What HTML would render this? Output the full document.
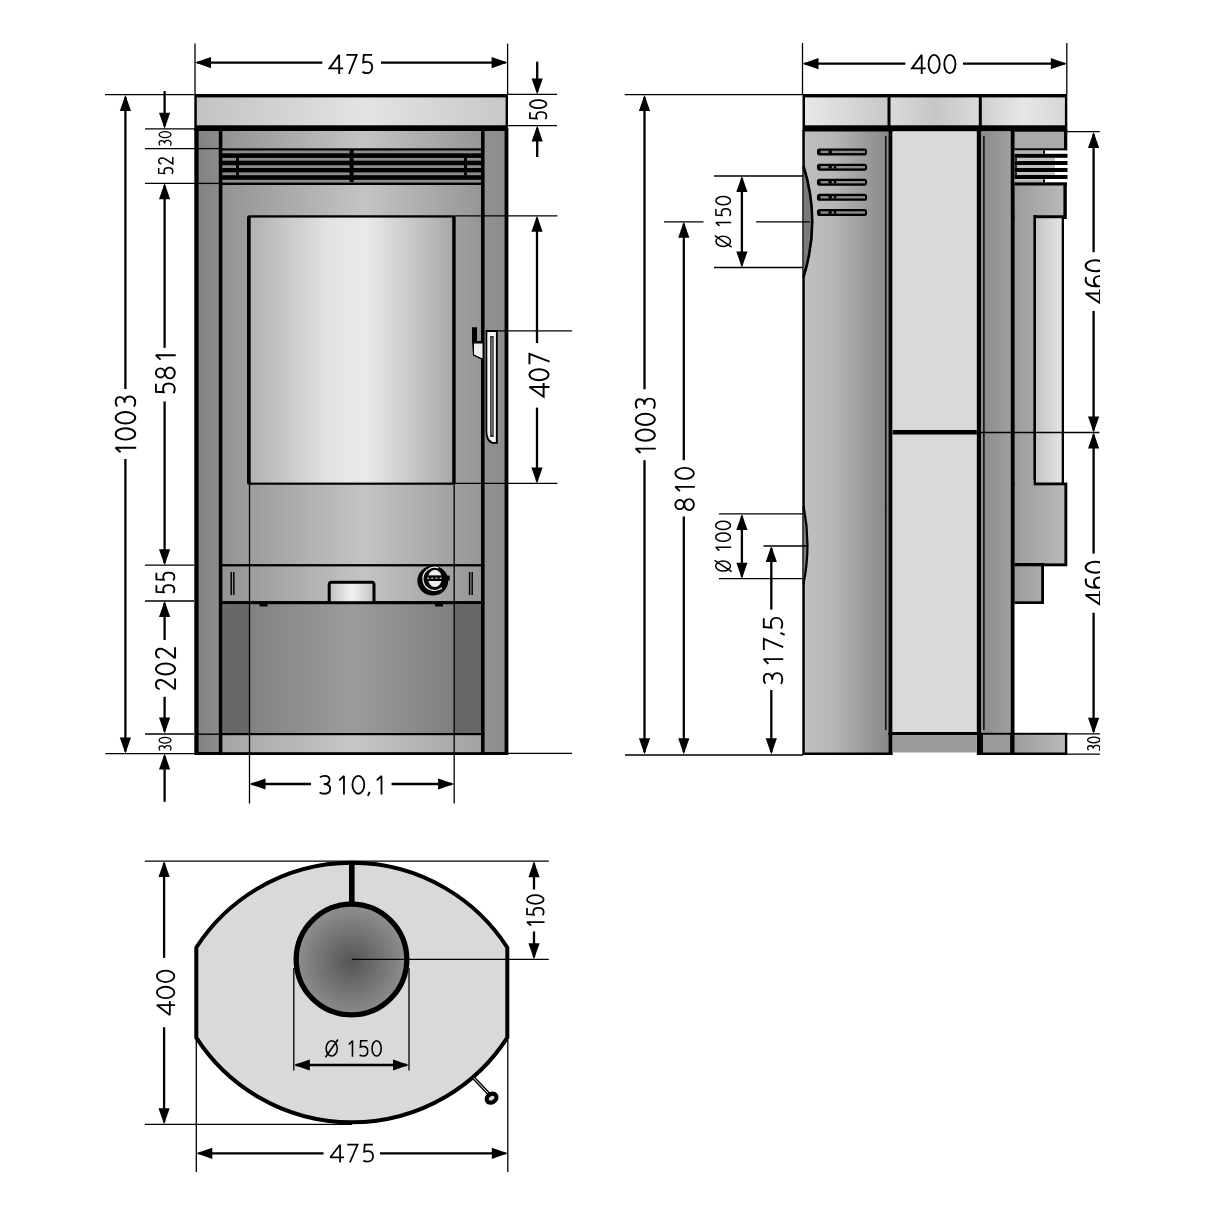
<!DOCTYPE html>
<html><head><meta charset="utf-8"><style>
html,body{margin:0;padding:0;background:#fff;width:1214px;height:1214px;overflow:hidden}
svg{display:block}
.gl path{vector-effect:non-scaling-stroke;stroke-linecap:butt;stroke-linejoin:miter;stroke-miterlimit:2.2}
</style></head><body>
<svg width="1214" height="1214" viewBox="0 0 1214 1214">
<rect width="1214" height="1214" fill="#fff"/>

<defs>
<linearGradient id="slab" x1="0" x2="1" y1="0" y2="0">
 <stop offset="0" stop-color="#c3c3c3"/><stop offset="0.55" stop-color="#e3e3e3"/><stop offset="1" stop-color="#c8c8c8"/>
</linearGradient>
<linearGradient id="col" x1="0" x2="1" y1="0" y2="0">
 <stop offset="0" stop-color="#828282"/><stop offset="1" stop-color="#8c8c8c"/>
</linearGradient>
<linearGradient id="colr" x1="0" x2="1" y1="0" y2="0">
 <stop offset="0" stop-color="#919191"/><stop offset="1" stop-color="#8c8c8c"/>
</linearGradient>
<linearGradient id="frame" x1="0" x2="1" y1="0" y2="0">
 <stop offset="0" stop-color="#939393"/><stop offset="0.55" stop-color="#c4c4c4"/><stop offset="1" stop-color="#969696"/>
</linearGradient>
<linearGradient id="glass" x1="0" x2="1" y1="0" y2="0">
 <stop offset="0" stop-color="#b2b2b2"/><stop offset="0.4" stop-color="#e4e4e4"/><stop offset="0.58" stop-color="#e9e9e9"/><stop offset="1" stop-color="#a9a9a9"/>
</linearGradient>
<linearGradient id="low" x1="0" x2="1" y1="0" y2="0">
 <stop offset="0" stop-color="#7a7a7a"/><stop offset="0.5" stop-color="#9c9c9c"/><stop offset="1" stop-color="#777777"/>
</linearGradient>
<linearGradient id="plinth" x1="0" x2="1" y1="0" y2="0">
 <stop offset="0" stop-color="#a5a5a5"/><stop offset="0.5" stop-color="#c6c6c6"/><stop offset="1" stop-color="#a2a2a2"/>
</linearGradient>
<linearGradient id="block" x1="0" x2="1" y1="0" y2="0">
 <stop offset="0" stop-color="#c0c0c0"/><stop offset="0.5" stop-color="#f2f2f2"/><stop offset="1" stop-color="#c2c2c2"/>
</linearGradient>
<linearGradient id="side" x1="0" x2="1" y1="0" y2="0">
 <stop offset="0" stop-color="#bfbfbf"/><stop offset="0.35" stop-color="#b6b6b6"/><stop offset="1" stop-color="#888888"/>
</linearGradient>
<linearGradient id="rdark" x1="0" x2="1" y1="0" y2="0">
 <stop offset="0" stop-color="#8a8a8a"/><stop offset="1" stop-color="#a0a0a0"/>
</linearGradient>
<linearGradient id="rgray" gradientUnits="userSpaceOnUse" x1="1015" x2="1066" y1="0" y2="0">
 <stop offset="0" stop-color="#9c9c9c"/><stop offset="1" stop-color="#bababa"/>
</linearGradient>
<linearGradient id="rdoor" x1="0" x2="1" y1="0" y2="0">
 <stop offset="0" stop-color="#c4c4c4"/><stop offset="1" stop-color="#e4e4e4"/>
</linearGradient>
<linearGradient id="sslab" x1="0" x2="1" y1="0" y2="0">
 <stop offset="0" stop-color="#e8e8e8"/><stop offset="1" stop-color="#c8c8c8"/>
</linearGradient>
<linearGradient id="sslab2" x1="0" x2="1" y1="0" y2="0">
 <stop offset="0" stop-color="#dadada"/><stop offset="0.5" stop-color="#c6c6c6"/><stop offset="1" stop-color="#dadada"/>
</linearGradient>
<linearGradient id="sslab3" x1="0" x2="1" y1="0" y2="0">
 <stop offset="0" stop-color="#d0d0d0"/><stop offset="0.5" stop-color="#e6e6e6"/><stop offset="1" stop-color="#d6d6d6"/>
</linearGradient>
<radialGradient id="flue" cx="0.5" cy="0.52" r="0.5">
 <stop offset="0" stop-color="#555555"/><stop offset="1" stop-color="#8e8e8e"/>
</radialGradient>
<clipPath id="clipR"><rect x="0" y="0" width="1100" height="1214"/></clipPath>
</defs>

<rect x="194.3" y="94" width="313.7" height="37" fill="#000"/>
<rect x="196.8" y="97.4" width="308.8" height="27.9" fill="url(#slab)"/>
<rect x="194.3" y="128" width="314.1" height="627" fill="#000"/>
<rect x="198.6" y="131" width="20.4" height="621" fill="url(#col)"/>
<rect x="484.4" y="131" width="20.2" height="621" fill="url(#colr)"/>
<rect x="222.2" y="131" width="258.8" height="17.3" fill="url(#frame)"/>
<rect x="222.2" y="150.5" width="258.8" height="2.8" fill="#8c8c8c"/>
<rect x="222.2" y="157.9" width="258.8" height="2.8" fill="#8c8c8c"/>
<rect x="222.2" y="165.2" width="258.8" height="2.8" fill="#8c8c8c"/>
<rect x="222.2" y="172.4" width="258.8" height="2.8" fill="#8c8c8c"/>
<rect x="222.2" y="179.8" width="258.8" height="2.8" fill="#8c8c8c"/>
<rect x="349.6" y="150" width="4" height="32" fill="#000"/>
<rect x="236" y="157.7" width="3" height="3.2" fill="#000"/>
<rect x="464" y="157.7" width="3" height="3.2" fill="#000"/>
<rect x="236" y="165" width="3" height="3.2" fill="#000"/>
<rect x="464" y="165" width="3" height="3.2" fill="#000"/>
<rect x="236" y="172.2" width="3" height="3.2" fill="#000"/>
<rect x="464" y="172.2" width="3" height="3.2" fill="#000"/>
<rect x="222.2" y="185" width="258.8" height="379.5" fill="url(#frame)"/>
<rect x="247" y="215.2" width="208.7" height="269.6" rx="2.2" fill="#000"/>
<rect x="250.7" y="217.6" width="201.5" height="265" fill="url(#glass)"/>
<rect x="219" y="564.2" width="265.4" height="2.2" fill="#000"/>
<rect x="222.2" y="566.4" width="258.8" height="34.8" fill="url(#frame)"/>
<line x1="231.2" y1="572" x2="231.2" y2="595" stroke="#000" stroke-width="1.5"/>
<line x1="233.8" y1="572" x2="233.8" y2="595" stroke="#000" stroke-width="1.5"/>
<line x1="469.6" y1="572" x2="469.6" y2="595" stroke="#000" stroke-width="1.5"/>
<line x1="472.2" y1="572" x2="472.2" y2="595" stroke="#000" stroke-width="1.5"/>
<path d="M329.2 603 L329.2 584.5 Q329.2 582.2 331.5 582.2 L371.7 582.2 Q374 582.2 374 584.5 L374 603" fill="url(#block)" stroke="#000" stroke-width="3"/>
<ellipse cx="432.8" cy="580.7" rx="15.4" ry="14.9" fill="#000"/>
<rect x="445" y="575.6" width="4.7" height="5" fill="#000"/>
<path d="M438.5 567.9 A11.6 11.6 0 1 0 442 587.7" fill="none" stroke="#f4f4f4" stroke-width="1.2"/>
<ellipse cx="434.9" cy="578.3" rx="6.9" ry="8.6" fill="#eeeeee"/>
<rect x="426.5" y="575.4" width="17" height="5.6" fill="#000"/>
<line x1="427" y1="578.2" x2="443" y2="578.2" stroke="#eee" stroke-width="1" stroke-dasharray="2.2 2"/>
<rect x="219" y="601.2" width="265.4" height="3" fill="#000"/>
<rect x="222.2" y="604.2" width="258.8" height="128.8" fill="url(#low)"/>
<rect x="222.2" y="604.2" width="27.3" height="128.8" fill="#686868"/>
<rect x="454.2" y="604.2" width="26.8" height="128.8" fill="#676767"/>
<rect x="219" y="733" width="265.4" height="2.2" fill="#000"/>
<rect x="259.5" y="603" width="8" height="3.5" fill="#000"/>
<rect x="435" y="603" width="8" height="3.5" fill="#000"/>
<rect x="222.2" y="735.2" width="258.8" height="17" fill="url(#plinth)"/>
<line x1="195" y1="734.2" x2="219" y2="734.2" stroke="#000" stroke-width="1.4"/>
<rect x="218.8" y="131" width="3.4" height="624" fill="#000"/>
<rect x="481" y="131" width="3.3" height="624" fill="#000"/>
<line x1="195" y1="148.6" x2="219" y2="148.6" stroke="#000" stroke-width="1.3"/>
<line x1="195" y1="183.4" x2="219" y2="183.4" stroke="#000" stroke-width="1.3"/>
<line x1="249.5" y1="483.4" x2="249.5" y2="803.5" stroke="#000" stroke-width="1.3"/>
<line x1="454.2" y1="483.4" x2="454.2" y2="803.5" stroke="#000" stroke-width="1.3"/>
<path d="M472 327.3 L477 327.3 L477 341 L484 341 L484 360.7 L473 355.5 L472 341 Z" fill="#000"/>
<path d="M474 343.5 L482.5 343.5 L482.5 358.5 L474 354.5 Z" fill="#eeeeee"/>
<path d="M485.6 330 L497.8 330 L497.8 443.8 L492 443.8 Q485.6 441.5 485.6 432 Z" fill="#000"/>
<path d="M487.3 332 L495.9 332 L495.9 441.9 L492.6 441.9 Q487.3 439.5 487.3 431 Z" fill="#f4f4f4"/>
<rect x="490.1" y="336" width="3.6" height="101" fill="#333"/>
<rect x="491.2" y="338" width="1.4" height="97" fill="#777"/>
<line x1="195" y1="43.6" x2="195" y2="94" stroke="#000" stroke-width="1.3"/>
<line x1="507.6" y1="43.6" x2="507.6" y2="94" stroke="#000" stroke-width="1.3"/>
<line x1="197" y1="62.6" x2="322.3" y2="62.6" stroke="#000" stroke-width="2.3"/>
<line x1="381" y1="62.6" x2="505.6" y2="62.6" stroke="#000" stroke-width="2.3"/>
<path d="M195 62.6 L211 57 L211 68.2Z"/>
<path d="M507.6 62.6 L491.6 57 L491.6 68.2Z"/>
<g transform="translate(328.5,54) scale(0.20941,0.20000) translate(-2.5,0)" fill="none" stroke="#000" stroke-width="1.85" class="gl"><path transform="translate(2.5,0)" d="M70 72 L4.5 72 L51 4.5 L51 100"/><path transform="translate(83.5,0)" d="M4.5 4.5 L53.5 4.5 L17 100"/><path transform="translate(160,0)" d="M50 4.5 L11 4.5 L8.5 42 C13 40 19 39 25 39 C42 39 51 50 51 66 C51 84 40 95.5 25 95.5 C16 95.5 9 93 4.5 89"/></g>
<line x1="105" y1="94.7" x2="194" y2="94.7" stroke="#000" stroke-width="1.3"/>
<line x1="105.3" y1="753.6" x2="194" y2="753.6" stroke="#000" stroke-width="1.3"/>
<line x1="125.4" y1="97" x2="125.4" y2="389" stroke="#000" stroke-width="2.3"/>
<line x1="125.4" y1="459" x2="125.4" y2="751.6" stroke="#000" stroke-width="2.3"/>
<path d="M125.4 95 L119.8 111 L131 111Z"/>
<path d="M125.4 753.6 L119.8 737.6 L131 737.6Z"/>
<g transform="translate(114.7,453.3) rotate(-90) scale(0.21530,0.21500) translate(-22.5,0)" fill="none" stroke="#000" stroke-width="1.95" class="gl"><path transform="translate(22.5,0)" d="M4.5 27 L25.5 4.5 L25.5 100"/><path transform="translate(81.5,0)" d="M4.5 50 A26.5 45.5 0 1 0 57.5 50 A26.5 45.5 0 1 0 4.5 50Z"/><path transform="translate(156.5,0)" d="M4.5 50 A26.5 45.5 0 1 0 57.5 50 A26.5 45.5 0 1 0 4.5 50Z"/><path transform="translate(234.5,0)" d="M6 12 C11 7 19 4.5 27 4.5 C41 4.5 49 12 49 24 C49 38 39 46 23 46 C42 46 52 56 52 70 C52 86 41 95.5 26 95.5 C17 95.5 9 93 4.5 89"/></g>
<line x1="164.6" y1="91" x2="164.6" y2="126" stroke="#000" stroke-width="2.3"/>
<path d="M164.6 128.8 L159 112.8 L170.2 112.8Z"/>
<line x1="145" y1="128.8" x2="194" y2="128.8" stroke="#000" stroke-width="1.3"/>
<g transform="translate(158.5,146) rotate(-90) scale(0.11045,0.13100) translate(-9.5,0)" fill="none" stroke="#000" stroke-width="1.26" class="gl"><path transform="translate(9.5,0)" d="M6 12 C11 7 19 4.5 27 4.5 C41 4.5 49 12 49 24 C49 38 39 46 23 46 C42 46 52 56 52 70 C52 86 41 95.5 26 95.5 C17 95.5 9 93 4.5 89"/><path transform="translate(81.5,0)" d="M4.5 50 A26.5 45.5 0 1 0 57.5 50 A26.5 45.5 0 1 0 4.5 50Z"/></g>
<line x1="145" y1="148.6" x2="195" y2="148.6" stroke="#000" stroke-width="1.3"/>
<g transform="translate(158,174.6) rotate(-90) scale(0.13384,0.15500) translate(-10,0)" fill="none" stroke="#000" stroke-width="1.47" class="gl"><path transform="translate(10,0)" d="M50 4.5 L11 4.5 L8.5 42 C13 40 19 39 25 39 C42 39 51 50 51 66 C51 84 40 95.5 25 95.5 C16 95.5 9 93 4.5 89"/><path transform="translate(83.5,0)" d="M7 22 C10 9 19 4.5 29 4.5 C43 4.5 51 13 51 26 C51 39 45 47 35 58 L6 95.5 L58 95.5"/></g>
<line x1="145" y1="183.3" x2="195" y2="183.3" stroke="#000" stroke-width="1.3"/>
<line x1="164.6" y1="185.3" x2="164.6" y2="347.8" stroke="#000" stroke-width="2.3"/>
<line x1="164.6" y1="401.4" x2="164.6" y2="563.2" stroke="#000" stroke-width="2.3"/>
<path d="M164.6 183.3 L159 199.3 L170.2 199.3Z"/>
<path d="M164.6 565.2 L159 549.2 L170.2 549.2Z"/>
<g transform="translate(155,394) rotate(-90) scale(0.20571,0.20700) translate(-10,0)" fill="none" stroke="#000" stroke-width="1.91" class="gl"><path transform="translate(10,0)" d="M50 4.5 L11 4.5 L8.5 42 C13 40 19 39 25 39 C42 39 51 50 51 66 C51 84 40 95.5 25 95.5 C16 95.5 9 93 4.5 89"/><path transform="translate(81.5,0)" d="M9 26 A22 21.5 0 1 0 53 26 A22 21.5 0 1 0 9 26Z M4.5 72 A26.5 23.5 0 1 0 57.5 72 A26.5 23.5 0 1 0 4.5 72Z"/><path transform="translate(172.5,0)" d="M4.5 27 L25.5 4.5 L25.5 100"/></g>
<line x1="145" y1="565.2" x2="194" y2="565.2" stroke="#000" stroke-width="1.3"/>
<g transform="translate(155.5,593.7) rotate(-90) scale(0.16692,0.19800) translate(-10,0)" fill="none" stroke="#000" stroke-width="1.83" class="gl"><path transform="translate(10,0)" d="M50 4.5 L11 4.5 L8.5 42 C13 40 19 39 25 39 C42 39 51 50 51 66 C51 84 40 95.5 25 95.5 C16 95.5 9 93 4.5 89"/><path transform="translate(85,0)" d="M50 4.5 L11 4.5 L8.5 42 C13 40 19 39 25 39 C42 39 51 50 51 66 C51 84 40 95.5 25 95.5 C16 95.5 9 93 4.5 89"/></g>
<line x1="145" y1="601" x2="194" y2="601" stroke="#000" stroke-width="1.3"/>
<line x1="164.6" y1="603" x2="164.6" y2="640" stroke="#000" stroke-width="2.3"/>
<line x1="164.6" y1="696.8" x2="164.6" y2="731.5" stroke="#000" stroke-width="2.3"/>
<path d="M164.6 601 L159 617 L170.2 617Z"/>
<path d="M164.6 733.5 L159 717.5 L170.2 717.5Z"/>
<g transform="translate(155,690.6) rotate(-90) scale(0.20817,0.21000) translate(-8.5,0)" fill="none" stroke="#000" stroke-width="1.94" class="gl"><path transform="translate(8.5,0)" d="M7 22 C10 9 19 4.5 29 4.5 C43 4.5 51 13 51 26 C51 39 45 47 35 58 L6 95.5 L58 95.5"/><path transform="translate(81.5,0)" d="M4.5 50 A26.5 45.5 0 1 0 57.5 50 A26.5 45.5 0 1 0 4.5 50Z"/><path transform="translate(158.5,0)" d="M7 22 C10 9 19 4.5 29 4.5 C43 4.5 51 13 51 26 C51 39 45 47 35 58 L6 95.5 L58 95.5"/></g>
<line x1="145" y1="734" x2="194" y2="734" stroke="#000" stroke-width="1.3"/>
<g transform="translate(158.5,751) rotate(-90) scale(0.10448,0.13100) translate(-9.5,0)" fill="none" stroke="#000" stroke-width="1.26" class="gl"><path transform="translate(9.5,0)" d="M6 12 C11 7 19 4.5 27 4.5 C41 4.5 49 12 49 24 C49 38 39 46 23 46 C42 46 52 56 52 70 C52 86 41 95.5 26 95.5 C17 95.5 9 93 4.5 89"/><path transform="translate(81.5,0)" d="M4.5 50 A26.5 45.5 0 1 0 57.5 50 A26.5 45.5 0 1 0 4.5 50Z"/></g>
<line x1="164.6" y1="756" x2="164.6" y2="801.8" stroke="#000" stroke-width="2.3"/>
<path d="M164.6 753.6 L159 769.6 L170.2 769.6Z"/>
<line x1="507" y1="94.4" x2="557" y2="94.4" stroke="#000" stroke-width="1.3"/>
<line x1="507" y1="125.6" x2="557" y2="125.6" stroke="#000" stroke-width="1.3"/>
<line x1="537.2" y1="61.6" x2="537.2" y2="92" stroke="#000" stroke-width="2.3"/>
<path d="M537.2 94.4 L531.6 78.4 L542.8 78.4Z"/>
<line x1="537.2" y1="128" x2="537.2" y2="157" stroke="#000" stroke-width="2.3"/>
<path d="M537.2 125.6 L531.6 141.6 L542.8 141.6Z"/>
<g transform="translate(529.1,119.8) rotate(-90) scale(0.15281,0.18200) translate(-10,0)" fill="none" stroke="#000" stroke-width="1.70" class="gl"><path transform="translate(10,0)" d="M50 4.5 L11 4.5 L8.5 42 C13 40 19 39 25 39 C42 39 51 50 51 66 C51 84 40 95.5 25 95.5 C16 95.5 9 93 4.5 89"/><path transform="translate(81.5,0)" d="M4.5 50 A26.5 45.5 0 1 0 57.5 50 A26.5 45.5 0 1 0 4.5 50Z"/></g>
<line x1="455" y1="215.8" x2="557.4" y2="215.8" stroke="#000" stroke-width="1.3"/>
<line x1="455" y1="483.4" x2="557.4" y2="483.4" stroke="#000" stroke-width="1.3"/>
<line x1="497" y1="330.8" x2="572" y2="330.8" stroke="#000" stroke-width="1.3"/>
<line x1="508" y1="753.4" x2="572" y2="753.4" stroke="#000" stroke-width="1.3"/>
<line x1="537" y1="217.8" x2="537" y2="343" stroke="#000" stroke-width="2.3"/>
<line x1="537" y1="407.6" x2="537" y2="481.4" stroke="#000" stroke-width="2.3"/>
<path d="M537 215.8 L531.4 231.8 L542.6 231.8Z"/>
<path d="M537 483.4 L531.4 467.4 L542.6 467.4Z"/>
<g transform="translate(528.5,397.7) rotate(-90) scale(0.20888,0.21000) translate(-2.5,0)" fill="none" stroke="#000" stroke-width="1.94" class="gl"><path transform="translate(2.5,0)" d="M70 72 L4.5 72 L51 4.5 L51 100"/><path transform="translate(81.5,0)" d="M4.5 50 A26.5 45.5 0 1 0 57.5 50 A26.5 45.5 0 1 0 4.5 50Z"/><path transform="translate(158.5,0)" d="M4.5 4.5 L53.5 4.5 L17 100"/></g>
<line x1="251.5" y1="784" x2="311" y2="784" stroke="#000" stroke-width="2.3"/>
<line x1="391.6" y1="784" x2="452.1" y2="784" stroke="#000" stroke-width="2.3"/>
<path d="M249.5 784 L265.5 778.4 L265.5 789.6Z"/>
<path d="M454.1 784 L438.1 778.4 L438.1 789.6Z"/>
<g transform="translate(318.6,775) scale(0.22343,0.19600) translate(-9.5,0)" fill="none" stroke="#000" stroke-width="1.82" class="gl"><path transform="translate(9.5,0)" d="M6 12 C11 7 19 4.5 27 4.5 C41 4.5 49 12 49 24 C49 38 39 46 23 46 C42 46 52 56 52 70 C52 86 41 95.5 26 95.5 C17 95.5 9 93 4.5 89"/><path transform="translate(97.5,0)" d="M4.5 27 L25.5 4.5 L25.5 100"/><path transform="translate(156.5,0)" d="M4.5 50 A26.5 45.5 0 1 0 57.5 50 A26.5 45.5 0 1 0 4.5 50Z"/><path transform="translate(227,0)" d="M11 86 L3 107"/><path transform="translate(265.5,0)" d="M4.5 27 L25.5 4.5 L25.5 100"/></g>
<rect x="802.5" y="94" width="264.8" height="37.5" fill="#000"/>
<rect x="805" y="97.4" width="82.5" height="27.9" fill="url(#sslab)"/>
<rect x="890.5" y="97.4" width="88.3" height="27.9" fill="url(#sslab2)"/>
<rect x="981.8" y="97.4" width="83.1" height="27.9" fill="url(#sslab3)"/>
<rect x="802.3" y="130" width="90.3" height="625" fill="#000"/>
<rect x="804.8" y="131.5" width="83.8" height="621" fill="url(#side)"/>
<path d="M803.5 166 Q821 221.5 803.5 277 Z" fill="#7a7a7a"/>
<path d="M803.5 166 Q821 221.5 803.5 277" fill="none" stroke="#000" stroke-width="2.6"/>
<path d="M803.5 506 Q811.5 545 803.5 584 Z" fill="#7a7a7a"/>
<path d="M803.5 506 Q811.5 545 803.5 584" fill="none" stroke="#000" stroke-width="2.2"/>
<rect x="817" y="148.4" width="50" height="7" rx="2.6" fill="#000"/>
<rect x="820.5" y="150.7" width="44.5" height="2.4" fill="#8c8c8c"/>
<rect x="828.5" y="150.6" width="3.3" height="2.6" fill="#000"/>
<rect x="817" y="163.7" width="50" height="7" rx="2.6" fill="#000"/>
<rect x="820.5" y="166" width="44.5" height="2.4" fill="#8c8c8c"/>
<rect x="828.5" y="165.9" width="3.3" height="2.6" fill="#000"/>
<rect x="833.8" y="165.9" width="2.4" height="2.6" fill="#000"/>
<rect x="817" y="178.7" width="50" height="7" rx="2.6" fill="#000"/>
<rect x="820.5" y="181" width="44.5" height="2.4" fill="#8c8c8c"/>
<rect x="828.5" y="180.9" width="3.3" height="2.6" fill="#000"/>
<rect x="833.8" y="180.9" width="2.4" height="2.6" fill="#000"/>
<rect x="817" y="193.8" width="50" height="7" rx="2.6" fill="#000"/>
<rect x="820.5" y="196.1" width="44.5" height="2.4" fill="#8c8c8c"/>
<rect x="828.5" y="196" width="3.3" height="2.6" fill="#000"/>
<rect x="833.8" y="196" width="2.4" height="2.6" fill="#000"/>
<rect x="817" y="209" width="50" height="7" rx="2.6" fill="#000"/>
<rect x="820.5" y="211.3" width="44.5" height="2.4" fill="#8c8c8c"/>
<rect x="828.5" y="211.2" width="3.3" height="2.6" fill="#000"/>
<rect x="833.8" y="211.2" width="2.4" height="2.6" fill="#000"/>
<line x1="885.8" y1="136" x2="885.8" y2="730" stroke="#000" stroke-width="1.4"/>
<rect x="892.6" y="131.5" width="84.2" height="601.5" fill="#d9d9d9"/>
<rect x="892.6" y="430" width="84.2" height="4.5" fill="#000"/>
<rect x="888.6" y="732" width="92.5" height="3" fill="#000"/>
<rect x="976.8" y="130" width="4.3" height="625" fill="#000"/>
<rect x="981.1" y="131.5" width="29.5" height="621" fill="url(#rdark)"/>
<line x1="983.9" y1="136" x2="983.9" y2="730" stroke="#000" stroke-width="1.4"/>
<rect x="1014.5" y="129" width="52.8" height="21.5" fill="#000"/>
<rect x="1014.5" y="131.7" width="49.5" height="16.6" fill="#aaaaaa"/>
<rect x="1014.5" y="150.7" width="28.5" height="3" fill="#b5b5b5"/>
<rect x="1043" y="150.7" width="2" height="3" fill="#000"/>
<rect x="1045" y="150.7" width="23" height="3" fill="#ffffff"/>
<rect x="1014.5" y="157.9" width="2.5" height="3" fill="#222"/>
<rect x="1017" y="157.9" width="38" height="3" fill="#c0c0c0"/>
<rect x="1057" y="157.9" width="11" height="3" fill="#ffffff"/>
<rect x="1014.5" y="165" width="2.5" height="3" fill="#222"/>
<rect x="1017" y="165" width="38" height="3" fill="#c0c0c0"/>
<rect x="1057" y="165" width="11" height="3" fill="#ffffff"/>
<rect x="1014.5" y="172.1" width="2.5" height="3" fill="#222"/>
<rect x="1017" y="172.1" width="38" height="3" fill="#c0c0c0"/>
<rect x="1057" y="172.1" width="11" height="3" fill="#ffffff"/>
<rect x="1014.5" y="179.3" width="28.5" height="3" fill="#b5b5b5"/>
<rect x="1043" y="179.3" width="2" height="3" fill="#000"/>
<rect x="1045" y="179.3" width="23" height="3" fill="#ffffff"/>
<rect x="1014.5" y="153.8" width="53" height="4" fill="#000"/>
<rect x="1014.5" y="161" width="53" height="4" fill="#000"/>
<rect x="1014.5" y="168" width="53" height="4" fill="#000"/>
<rect x="1014.5" y="175" width="53" height="4" fill="#000"/>
<rect x="1014.5" y="182.3" width="52.5" height="3.2" fill="#000"/>
<rect x="1014.5" y="184" width="52.3" height="35" fill="#000"/>
<rect x="1015" y="185.5" width="48.4" height="30" fill="url(#rgray)"/>
<rect x="1014.5" y="215" width="21.5" height="270" fill="#000"/>
<rect x="1015" y="215" width="18.6" height="269" fill="url(#rgray)"/>
<rect x="1033.6" y="215.5" width="30.4" height="269.5" fill="#000"/>
<rect x="1036" y="218.2" width="25.7" height="264.8" fill="url(#rdoor)"/>
<rect x="1014.5" y="482.5" width="52.8" height="83.8" fill="#000"/>
<rect x="1015" y="485.3" width="49.4" height="78.1" fill="url(#rgray)"/>
<rect x="1015" y="480" width="18.6" height="6" fill="url(#rgray)"/>
<rect x="1014.5" y="563" width="29.5" height="41" fill="#000"/>
<rect x="1015" y="566.3" width="26.2" height="35" fill="url(#rgray)"/>
<rect x="981.1" y="732.8" width="86.2" height="22.2" fill="#000"/>
<rect x="983" y="734.5" width="27.2" height="18" fill="#9c9c9c"/>
<rect x="1013.8" y="734.5" width="51.1" height="18" fill="url(#rgray)"/>
<rect x="892.6" y="735" width="84.2" height="17.5" fill="#9a9a9a"/>
<line x1="888" y1="733.8" x2="1100" y2="733.8" stroke="#000" stroke-width="1.3"/>
<rect x="1010.6" y="130" width="3.9" height="625" fill="#000"/>
<line x1="802.5" y1="43" x2="802.5" y2="94" stroke="#000" stroke-width="1.3"/>
<line x1="1066.8" y1="43" x2="1066.8" y2="94" stroke="#000" stroke-width="1.3"/>
<line x1="804.5" y1="63.7" x2="905.4" y2="63.7" stroke="#000" stroke-width="2.3"/>
<line x1="963" y1="63.7" x2="1064.8" y2="63.7" stroke="#000" stroke-width="2.3"/>
<path d="M802.5 63.7 L818.5 58.1 L818.5 69.3Z"/>
<path d="M1066.8 63.7 L1050.8 58.1 L1050.8 69.3Z"/>
<g transform="translate(911,54) scale(0.21019,0.20000) translate(-2.5,0)" fill="none" stroke="#000" stroke-width="1.85" class="gl"><path transform="translate(2.5,0)" d="M70 72 L4.5 72 L51 4.5 L51 100"/><path transform="translate(81.5,0)" d="M4.5 50 A26.5 45.5 0 1 0 57.5 50 A26.5 45.5 0 1 0 4.5 50Z"/><path transform="translate(156.5,0)" d="M4.5 50 A26.5 45.5 0 1 0 57.5 50 A26.5 45.5 0 1 0 4.5 50Z"/></g>
<line x1="624.7" y1="94.7" x2="803" y2="94.7" stroke="#000" stroke-width="1.3"/>
<line x1="625" y1="755" x2="803" y2="755" stroke="#000" stroke-width="1.3"/>
<line x1="644.5" y1="97" x2="644.5" y2="389.2" stroke="#000" stroke-width="2.3"/>
<line x1="644.5" y1="460.2" x2="644.5" y2="752.2" stroke="#000" stroke-width="2.3"/>
<path d="M644.5 95 L638.9 111 L650.1 111Z"/>
<path d="M644.5 754.2 L638.9 738.2 L650.1 738.2Z"/>
<g transform="translate(634.8,454) rotate(-90) scale(0.20970,0.21000) translate(-22.5,0)" fill="none" stroke="#000" stroke-width="1.94" class="gl"><path transform="translate(22.5,0)" d="M4.5 27 L25.5 4.5 L25.5 100"/><path transform="translate(81.5,0)" d="M4.5 50 A26.5 45.5 0 1 0 57.5 50 A26.5 45.5 0 1 0 4.5 50Z"/><path transform="translate(156.5,0)" d="M4.5 50 A26.5 45.5 0 1 0 57.5 50 A26.5 45.5 0 1 0 4.5 50Z"/><path transform="translate(234.5,0)" d="M6 12 C11 7 19 4.5 27 4.5 C41 4.5 49 12 49 24 C49 38 39 46 23 46 C42 46 52 56 52 70 C52 86 41 95.5 26 95.5 C17 95.5 9 93 4.5 89"/></g>
<line x1="664" y1="221.8" x2="703.6" y2="221.8" stroke="#000" stroke-width="1.3"/>
<line x1="756" y1="221.8" x2="810" y2="221.8" stroke="#000" stroke-width="1.3"/>
<line x1="683.8" y1="223.8" x2="683.8" y2="460.2" stroke="#000" stroke-width="2.3"/>
<line x1="683.8" y1="516.5" x2="683.8" y2="752.2" stroke="#000" stroke-width="2.3"/>
<path d="M683.8 221.8 L678.2 237.8 L689.4 237.8Z"/>
<path d="M683.8 754.2 L678.2 738.2 L689.4 738.2Z"/>
<g transform="translate(674.4,511) rotate(-90) scale(0.20755,0.20400) translate(-6.5,0)" fill="none" stroke="#000" stroke-width="1.88" class="gl"><path transform="translate(6.5,0)" d="M9 26 A22 21.5 0 1 0 53 26 A22 21.5 0 1 0 9 26Z M4.5 72 A26.5 23.5 0 1 0 57.5 72 A26.5 23.5 0 1 0 4.5 72Z"/><path transform="translate(97.5,0)" d="M4.5 27 L25.5 4.5 L25.5 100"/><path transform="translate(156.5,0)" d="M4.5 50 A26.5 45.5 0 1 0 57.5 50 A26.5 45.5 0 1 0 4.5 50Z"/></g>
<line x1="714" y1="176" x2="803" y2="176" stroke="#000" stroke-width="1.3"/>
<line x1="714" y1="267.5" x2="803" y2="267.5" stroke="#000" stroke-width="1.3"/>
<line x1="741.9" y1="178" x2="741.9" y2="265.5" stroke="#000" stroke-width="2.3"/>
<path d="M741.9 176 L736.3 192 L747.5 192Z"/>
<path d="M741.9 267.5 L736.3 251.5 L747.5 251.5Z"/>
<g transform="translate(715.2,247.8) rotate(-90) scale(0.15686,0.16000) translate(-3,0)" fill="none" stroke="#000" stroke-width="1.51" class="gl"><path transform="translate(3,0)" d="M9 50 A32 45.5 0 1 0 73 50 A32 45.5 0 1 0 9 50Z M5 103 L77 -3"/><path transform="translate(138.5,0)" d="M4.5 27 L25.5 4.5 L25.5 100"/><path transform="translate(201,0)" d="M50 4.5 L11 4.5 L8.5 42 C13 40 19 39 25 39 C42 39 51 50 51 66 C51 84 40 95.5 25 95.5 C16 95.5 9 93 4.5 89"/><path transform="translate(272.5,0)" d="M4.5 50 A26.5 45.5 0 1 0 57.5 50 A26.5 45.5 0 1 0 4.5 50Z"/></g>
<line x1="718.9" y1="513.9" x2="803" y2="513.9" stroke="#000" stroke-width="1.3"/>
<line x1="718.9" y1="578.7" x2="803" y2="578.7" stroke="#000" stroke-width="1.3"/>
<line x1="741.9" y1="515.9" x2="741.9" y2="576.7" stroke="#000" stroke-width="2.3"/>
<path d="M741.9 513.9 L736.3 529.9 L747.5 529.9Z"/>
<path d="M741.9 578.7 L736.3 562.7 L747.5 562.7Z"/>
<g transform="translate(715,572.5) rotate(-90) scale(0.15656,0.16200) translate(-3,0)" fill="none" stroke="#000" stroke-width="1.53" class="gl"><path transform="translate(3,0)" d="M9 50 A32 45.5 0 1 0 73 50 A32 45.5 0 1 0 9 50Z M5 103 L77 -3"/><path transform="translate(138.5,0)" d="M4.5 27 L25.5 4.5 L25.5 100"/><path transform="translate(197.5,0)" d="M4.5 50 A26.5 45.5 0 1 0 57.5 50 A26.5 45.5 0 1 0 4.5 50Z"/><path transform="translate(272.5,0)" d="M4.5 50 A26.5 45.5 0 1 0 57.5 50 A26.5 45.5 0 1 0 4.5 50Z"/></g>
<line x1="763.4" y1="546" x2="808" y2="546" stroke="#000" stroke-width="1.3"/>
<line x1="771.3" y1="548" x2="771.3" y2="609.6" stroke="#000" stroke-width="2.3"/>
<line x1="771.3" y1="690" x2="771.3" y2="752.2" stroke="#000" stroke-width="2.3"/>
<path d="M771.3 546 L765.7 562 L776.9 562Z"/>
<path d="M771.3 754.2 L765.7 738.2 L776.9 738.2Z"/>
<g transform="translate(762.9,685) rotate(-90) scale(0.22781,0.20300) translate(-9.5,0)" fill="none" stroke="#000" stroke-width="1.88" class="gl"><path transform="translate(9.5,0)" d="M6 12 C11 7 19 4.5 27 4.5 C41 4.5 49 12 49 24 C49 38 39 46 23 46 C42 46 52 56 52 70 C52 86 41 95.5 26 95.5 C17 95.5 9 93 4.5 89"/><path transform="translate(97.5,0)" d="M4.5 27 L25.5 4.5 L25.5 100"/><path transform="translate(158.5,0)" d="M4.5 4.5 L53.5 4.5 L17 100"/><path transform="translate(227,0)" d="M11 86 L3 107"/><path transform="translate(253,0)" d="M50 4.5 L11 4.5 L8.5 42 C13 40 19 39 25 39 C42 39 51 50 51 66 C51 84 40 95.5 25 95.5 C16 95.5 9 93 4.5 89"/></g>
<line x1="1066" y1="131.7" x2="1099.7" y2="131.7" stroke="#000" stroke-width="1.3"/>
<line x1="981" y1="432.5" x2="1099.4" y2="432.5" stroke="#000" stroke-width="1.3"/>
<line x1="1066" y1="754.2" x2="1100" y2="754.2" stroke="#000" stroke-width="1.3"/>
<line x1="1093.6" y1="134" x2="1093.6" y2="252.2" stroke="#000" stroke-width="2.3"/>
<line x1="1093.6" y1="310.9" x2="1093.6" y2="430.5" stroke="#000" stroke-width="2.3"/>
<path d="M1093.6 132 L1088 148 L1099.2 148Z"/>
<path d="M1093.6 432.5 L1088 416.5 L1099.2 416.5Z"/>
<line x1="1093.6" y1="434.5" x2="1093.6" y2="553.6" stroke="#000" stroke-width="2.3"/>
<line x1="1093.6" y1="612.7" x2="1093.6" y2="731.8" stroke="#000" stroke-width="2.3"/>
<path d="M1093.6 432.5 L1088 448.5 L1099.2 448.5Z"/>
<path d="M1093.6 733.8 L1088 717.8 L1099.2 717.8Z"/>
<g clip-path="url(#clipR)">
<g transform="translate(1084.7,304) rotate(-90) scale(0.20648,0.21300) translate(-2.5,0)" fill="none" stroke="#000" stroke-width="1.95" class="gl"><path transform="translate(2.5,0)" d="M70 72 L4.5 72 L51 4.5 L51 100"/><path transform="translate(82.5,0)" d="M50 7 C46 5 41 4.5 37 4.5 C17 4.5 5.5 23 5.5 54 C5.5 80 15 95.5 31 95.5 C46 95.5 55 84 55 69 C55 53 45 43 32 43 C20 43 11 49 6 59"/><path transform="translate(156.5,0)" d="M4.5 50 A26.5 45.5 0 1 0 57.5 50 A26.5 45.5 0 1 0 4.5 50Z"/></g>
<g transform="translate(1084.7,605.5) rotate(-90) scale(0.20694,0.21300) translate(-2.5,0)" fill="none" stroke="#000" stroke-width="1.95" class="gl"><path transform="translate(2.5,0)" d="M70 72 L4.5 72 L51 4.5 L51 100"/><path transform="translate(82.5,0)" d="M50 7 C46 5 41 4.5 37 4.5 C17 4.5 5.5 23 5.5 54 C5.5 80 15 95.5 31 95.5 C46 95.5 55 84 55 69 C55 53 45 43 32 43 C20 43 11 49 6 59"/><path transform="translate(156.5,0)" d="M4.5 50 A26.5 45.5 0 1 0 57.5 50 A26.5 45.5 0 1 0 4.5 50Z"/></g>
<g transform="translate(1087,751) rotate(-90) scale(0.10746,0.13500) translate(-9.5,0)" fill="none" stroke="#000" stroke-width="1.30" class="gl"><path transform="translate(9.5,0)" d="M6 12 C11 7 19 4.5 27 4.5 C41 4.5 49 12 49 24 C49 38 39 46 23 46 C42 46 52 56 52 70 C52 86 41 95.5 26 95.5 C17 95.5 9 93 4.5 89"/><path transform="translate(81.5,0)" d="M4.5 50 A26.5 45.5 0 1 0 57.5 50 A26.5 45.5 0 1 0 4.5 50Z"/></g>
</g>
<path d="M196.3 947.5 A185.1 185.1 0 0 1 507.3 947.5 L507.3 1037.6 A185.1 185.1 0 0 1 196.3 1037.6 Z" fill="#d9d9d9" stroke="#000" stroke-width="4"/>
<rect x="349" y="862" width="5.6" height="41" fill="#000"/>
<circle cx="351.5" cy="959.5" r="55.3" fill="url(#flue)" stroke="#000" stroke-width="5.3"/>
<line x1="352" y1="959.3" x2="548.8" y2="959.3" stroke="#000" stroke-width="1.3"/>
<line x1="144.8" y1="861.1" x2="548.8" y2="861.1" stroke="#000" stroke-width="1.3"/>
<line x1="144.8" y1="1124.3" x2="352" y2="1124.3" stroke="#000" stroke-width="1.3"/>
<line x1="534" y1="863.3" x2="534" y2="889.5" stroke="#000" stroke-width="2.3"/>
<line x1="534" y1="931.5" x2="534" y2="957.3" stroke="#000" stroke-width="2.3"/>
<path d="M534 861.3 L528.4 877.3 L539.6 877.3Z"/>
<path d="M534 959.3 L528.4 943.3 L539.6 943.3Z"/>
<g transform="translate(526.2,926.2) rotate(-90) scale(0.16173,0.18300) translate(-22.5,0)" fill="none" stroke="#000" stroke-width="1.71" class="gl"><path transform="translate(22.5,0)" d="M4.5 27 L25.5 4.5 L25.5 100"/><path transform="translate(85,0)" d="M50 4.5 L11 4.5 L8.5 42 C13 40 19 39 25 39 C42 39 51 50 51 66 C51 84 40 95.5 25 95.5 C16 95.5 9 93 4.5 89"/><path transform="translate(156.5,0)" d="M4.5 50 A26.5 45.5 0 1 0 57.5 50 A26.5 45.5 0 1 0 4.5 50Z"/></g>
<line x1="164.1" y1="863.1" x2="164.1" y2="957.9" stroke="#000" stroke-width="2.3"/>
<line x1="164.1" y1="1027.2" x2="164.1" y2="1122.3" stroke="#000" stroke-width="2.3"/>
<path d="M164.1 861.1 L158.5 877.1 L169.7 877.1Z"/>
<path d="M164.1 1124.3 L158.5 1108.3 L169.7 1108.3Z"/>
<g transform="translate(156,1016) rotate(-90) scale(0.21435,0.19200) translate(-2.5,0)" fill="none" stroke="#000" stroke-width="1.78" class="gl"><path transform="translate(2.5,0)" d="M70 72 L4.5 72 L51 4.5 L51 100"/><path transform="translate(81.5,0)" d="M4.5 50 A26.5 45.5 0 1 0 57.5 50 A26.5 45.5 0 1 0 4.5 50Z"/><path transform="translate(156.5,0)" d="M4.5 50 A26.5 45.5 0 1 0 57.5 50 A26.5 45.5 0 1 0 4.5 50Z"/></g>
<line x1="293.8" y1="968" x2="293.8" y2="1070.5" stroke="#000" stroke-width="1.3"/>
<line x1="409" y1="968" x2="409" y2="1070.5" stroke="#000" stroke-width="1.3"/>
<line x1="295.8" y1="1065" x2="407" y2="1065" stroke="#000" stroke-width="2.3"/>
<path d="M293.8 1065 L309.8 1059.4 L309.8 1070.6Z"/>
<path d="M409 1065 L393 1059.4 L393 1070.6Z"/>
<g transform="translate(324.6,1040) scale(0.17315,0.16800) translate(-3,0)" fill="none" stroke="#000" stroke-width="1.58" class="gl"><path transform="translate(3,0)" d="M9 50 A32 45.5 0 1 0 73 50 A32 45.5 0 1 0 9 50Z M5 103 L77 -3"/><path transform="translate(138.5,0)" d="M4.5 27 L25.5 4.5 L25.5 100"/><path transform="translate(201,0)" d="M50 4.5 L11 4.5 L8.5 42 C13 40 19 39 25 39 C42 39 51 50 51 66 C51 84 40 95.5 25 95.5 C16 95.5 9 93 4.5 89"/><path transform="translate(272.5,0)" d="M4.5 50 A26.5 45.5 0 1 0 57.5 50 A26.5 45.5 0 1 0 4.5 50Z"/></g>
<line x1="196.3" y1="1040" x2="196.3" y2="1172" stroke="#000" stroke-width="1.3"/>
<line x1="507.8" y1="1040" x2="507.8" y2="1172" stroke="#000" stroke-width="1.3"/>
<line x1="198.3" y1="1153.3" x2="323.5" y2="1153.3" stroke="#000" stroke-width="2.3"/>
<line x1="380" y1="1153.3" x2="505.8" y2="1153.3" stroke="#000" stroke-width="2.3"/>
<path d="M196.3 1153.3 L212.3 1147.7 L212.3 1158.9Z"/>
<path d="M507.8 1153.3 L491.8 1147.7 L491.8 1158.9Z"/>
<g transform="translate(329.4,1143.9) scale(0.20941,0.18600) translate(-2.5,0)" fill="none" stroke="#000" stroke-width="1.73" class="gl"><path transform="translate(2.5,0)" d="M70 72 L4.5 72 L51 4.5 L51 100"/><path transform="translate(83.5,0)" d="M4.5 4.5 L53.5 4.5 L17 100"/><path transform="translate(160,0)" d="M50 4.5 L11 4.5 L8.5 42 C13 40 19 39 25 39 C42 39 51 50 51 66 C51 84 40 95.5 25 95.5 C16 95.5 9 93 4.5 89"/></g>
<line x1="473.8" y1="1078" x2="489" y2="1094" stroke="#000" stroke-width="3.4"/>
<line x1="473.8" y1="1078" x2="489" y2="1094" stroke="#fff" stroke-width="1"/>
<ellipse cx="491.6" cy="1098.2" rx="5.2" ry="4.1" transform="rotate(-35 491.6 1098.2)" fill="#d8d8d8" stroke="#000" stroke-width="4.2"/>
</svg></body></html>
